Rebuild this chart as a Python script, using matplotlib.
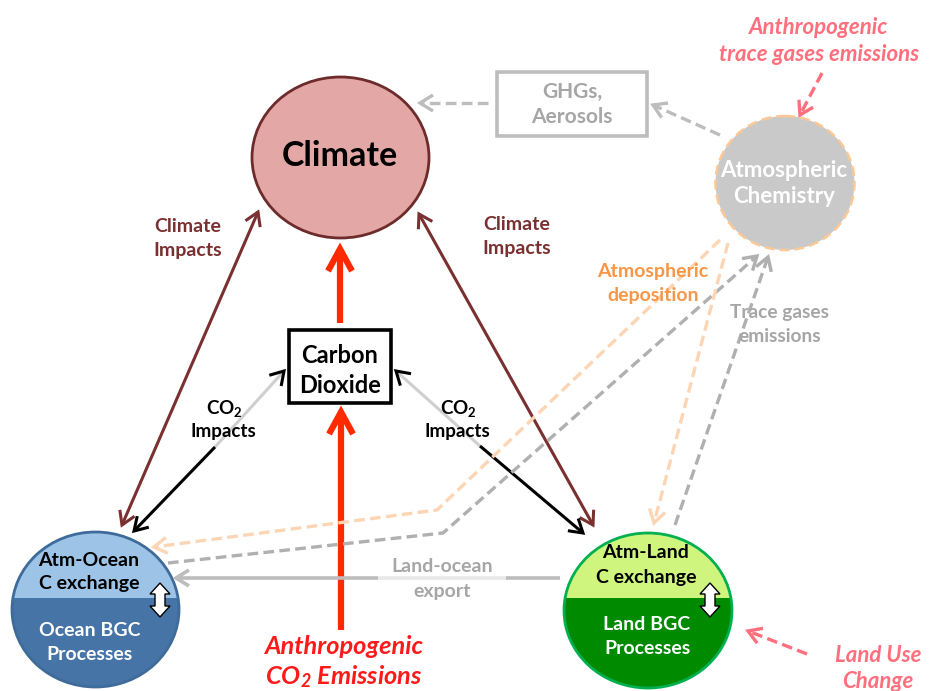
import matplotlib
matplotlib.use('Agg')
import matplotlib.pyplot as plt
import matplotlib.patches as mpatches
import numpy as np

# labels of the diagram
climate_label = 'Climate'
co2_label = ['Carbon', 'Dioxide']
ocean_top = ['Atm-Ocean', 'C exchange']
ocean_bottom = ['Ocean BGC', 'Processes']
land_top = ['Atm-Land', 'C exchange']
land_bottom = ['Land BGC', 'Processes']
chem_label = ['Atmospheric', 'Chemistry']
ghg_label = ['GHGs,', 'Aerosols']
impact_label = ['Climate', 'Impacts']
co2_impact_label = ['CO$_2$', 'Impacts']
export_label = ['Land-ocean', 'export']
deposition_label = ['Atmospheric', 'deposition']
trace_label = ['Trace gases', 'emissions']
anthro_trace_label = ['Anthropogenic', 'trace gases emissions']
anthro_co2_label = ['Anthropogenic', 'CO$_2$ Emissions']
luc_label = ['Land Use', 'Change']

plt.rcParams['font.family'] = ['Lato', 'DejaVu Sans']
plt.rcParams['mathtext.default'] = 'regular'

fig = plt.figure(figsize=(9.39, 6.91), dpi=100)
ax = fig.add_axes([0, 0, 1, 1])
ax.set_xlim(0, 939)
ax.set_ylim(691, 0)
ax.axis('off')

BROWN = '#7a3030'
GRAY = '#bdbdbd'
DGRAY = '#b0b0b0'
ORANGE_L = '#fcd5b4'
PINK = '#ff6f7d'
RED = '#ff2a00'


def head(tip, frm, color, L=13, W=8, lw=2.2):
    d = np.array(tip, float) - np.array(frm, float)
    d /= np.hypot(*d)
    n = np.array([-d[1], d[0]])
    t = np.array(tip, float)
    a = t - L * d + W * n
    b = t - L * d - W * n
    ax.plot([a[0], t[0], b[0]], [a[1], t[1], b[1]], color=color, lw=lw,
            solid_joinstyle='miter', solid_capstyle='butt', zorder=6)


def line(pts, color, lw=2.2, ls='-', z=4):
    pts = np.array(pts, float)
    if ls == '--':
        ax.plot(pts[:, 0], pts[:, 1], color=color, lw=lw, dashes=(3.2, 1.6),
                dash_capstyle='butt', zorder=z)
    else:
        ax.plot(pts[:, 0], pts[:, 1], color=color, lw=lw, zorder=z,
                solid_capstyle='butt')


def arrow(pts, color, lw=2.2, ls='-', both=False, L=13, W=8):
    line(pts, color, lw, ls)
    head(pts[-1], pts[-2], color, L, W, lw)
    if both:
        head(pts[0], pts[1], color, L, W, lw)


def txt(x, y, s, size, color='black', style='normal', weight='bold', z=8):
    ax.text(x, y, s, fontsize=size, color=color, fontstyle=style,
            fontweight=weight, ha='center', va='center', zorder=z)


def split_circle(cx, cy, w, h, ydiv, top_c, bot_c, edge):
    e = mpatches.Ellipse((cx, cy), w, h, facecolor=bot_c, edgecolor='none', zorder=3)
    ax.add_patch(e)
    top = mpatches.Rectangle((cx - w, cy - h), 2 * w, ydiv - (cy - h),
                             facecolor=top_c, edgecolor='none', zorder=3)
    ax.add_patch(top)
    top.set_clip_path(e)
    ax.add_patch(mpatches.Ellipse((cx, cy), w, h, facecolor='none',
                                  edgecolor=edge, lw=2, zorder=4))


def white_double(x, y0, y1):
    hw, sw, hl = 10, 5, 11
    pts = [(x, y0), (x + hw, y0 + hl), (x + sw, y0 + hl), (x + sw, y1 - hl),
           (x + hw, y1 - hl), (x, y1), (x - hw, y1 - hl), (x - sw, y1 - hl),
           (x - sw, y0 + hl), (x - hw, y0 + hl)]
    ax.add_patch(mpatches.Polygon(pts, closed=True, facecolor='white',
                                  edgecolor='black', lw=1.0, zorder=9))


# climate
ax.add_patch(mpatches.Ellipse((340.5, 157.5), 177, 161, facecolor='#e3a7a6',
                              edgecolor='#6e2b2b', lw=2, zorder=3))
txt(340, 156, climate_label, 24.5)

# carbon dioxide box
ax.add_patch(mpatches.Rectangle((289, 330), 102, 73, facecolor='white',
                                edgecolor='black', lw=2.6, zorder=3))
txt(340, 355, co2_label[0], 17)
txt(340, 385, co2_label[1], 17)

# ocean and land
split_circle(95.5, 609.5, 167, 155, 598, '#9dc3e6', '#4674a6', '#3e6b9a')
split_circle(648, 610.5, 168, 155, 598, '#cff57f', '#008a00', '#00b050')
txt(89, 560, ocean_top[0], 14)
txt(89, 583, ocean_top[1], 14)
txt(90, 630, ocean_bottom[0], 14, 'white')
txt(90, 655, ocean_bottom[1], 14, 'white')
txt(646, 553, land_top[0], 14)
txt(646, 577, land_top[1], 14)
txt(647, 624, land_bottom[0], 14, 'white')
txt(647, 648, land_bottom[1], 14, 'white')
white_double(160, 583, 617)
white_double(710, 583, 617)

# atmospheric chemistry
ax.add_patch(mpatches.Ellipse((785, 183), 139, 134, facecolor='#c9c9c9',
                              edgecolor='#fbc896', lw=1.8, ls=(0, (4, 2)), zorder=3))
txt(784, 170, chem_label[0], 16, 'white')
txt(784, 196, chem_label[1], 16, 'white')

# GHGs box
ax.add_patch(mpatches.Rectangle((497, 72), 150, 64, facecolor='white',
                                edgecolor=GRAY, lw=2.6, zorder=3))
txt(572, 92, ghg_label[0], 15, '#a6a6a6')
txt(572, 117, ghg_label[1], 15, '#a6a6a6')

# climate impacts arrows
arrow([(122, 525), (258, 212)], BROWN, 2.2, both=True)
arrow([(593, 525), (419, 214)], BROWN, 2.2, both=True)
txt(188, 226, impact_label[0], 14, BROWN)
txt(188, 250, impact_label[1], 14, BROWN)
txt(517, 224, impact_label[0], 14, BROWN)
txt(517, 248, impact_label[1], 14, BROWN)

# CO2 impacts arrows (grey upper part, black lower part)
line([(215, 447), (284, 371)], '#cfcfcf', 2.2)
line([(134, 531), (215, 447)], 'black', 2.2)
head((284, 371), (215, 447), 'black')
head((134, 531), (215, 447), 'black')
line([(396, 371), (480, 446)], '#cfcfcf', 2.2)
line([(480, 446), (583, 533)], 'black', 2.2)
head((396, 371), (480, 446), 'black')
head((583, 533), (480, 446), 'black')
txt(224, 408, co2_impact_label[0], 13.5)
txt(223, 431, co2_impact_label[1], 13.5)
txt(458, 408, co2_impact_label[0], 13.5)
txt(457, 431, co2_impact_label[1], 13.5)

# red CO2 arrows
arrow([(340, 323), (340, 249)], RED, 4.5, L=22, W=12)
arrow([(341, 630), (341, 412)], RED, 4.5, L=22, W=12)
txt(344, 646, anthro_co2_label[0], 18.3, '#ff1a1a', 'italic')
txt(344, 677, anthro_co2_label[1], 18.3, '#ff1a1a', 'italic')

# land-ocean export
line([(378, 578), (506, 578)], '#e8e8e8', 2.6)
line([(560, 578), (506, 578)], GRAY, 2.6)
arrow([(378, 578), (176, 578)], GRAY, 2.6)
txt(442, 566, export_label[0], 14, '#a6a6a6')
txt(442, 592, export_label[1], 14, '#a6a6a6')

# dashed links with atmospheric chemistry
arrow([(720, 240), (437, 510), (154, 547)], ORANGE_L, 2.4, ls='--')
arrow([(168, 563), (443, 533), (757, 256)], DGRAY, 2.4, ls='--')
arrow([(728, 243), (654, 523)], ORANGE_L, 2.4, ls='--')
arrow([(675, 525), (768, 257)], DGRAY, 2.4, ls='--')
txt(653, 271, deposition_label[0], 14, '#f79646')
txt(653, 295, deposition_label[1], 14, '#f79646')
txt(780, 312, trace_label[0], 13.8, '#a6a6a6')
txt(780, 336, trace_label[1], 13.8, '#a6a6a6')

# GHGs / aerosols links
arrow([(488, 103), (420, 103)], GRAY, 2.4, ls='--')
arrow([(720, 135), (653, 105)], GRAY, 2.4, ls='--')

# anthropogenic trace gases
arrow([(822, 73), (800, 115)], PINK, 2.4, ls='--')
txt(819, 27, anthro_trace_label[0], 16, PINK, 'italic')
txt(819, 54, anthro_trace_label[1], 16, PINK, 'italic')

# land use change
arrow([(807, 654), (748, 631)], PINK, 2.4, ls='--')
txt(878, 656, luc_label[0], 16, PINK, 'italic')
txt(878, 682, luc_label[1], 16, PINK, 'italic')

fig.savefig('out.png', dpi=100)
